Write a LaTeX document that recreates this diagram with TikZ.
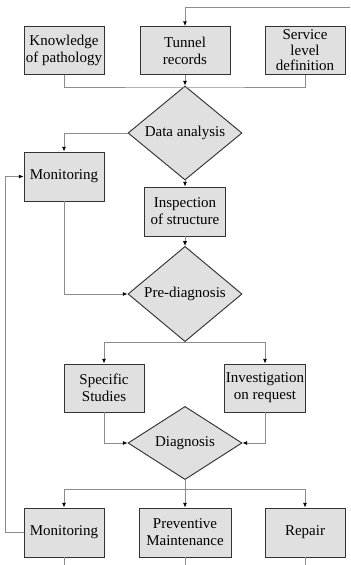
\documentclass[tikz,border=0pt]{standalone}
\usepackage{fontspec}
\setmainfont{Liberation Serif}
\usetikzlibrary{shapes.geometric,arrows.meta}
\tikzset{
  box/.style={draw=black!80, line width=0.8pt, fill=black!12, minimum width=2.4cm, minimum height=1.44cm,
    align=center, inner sep=0pt, font=\fontsize{12.8}{14.5}\selectfont},
  test/.style={diamond, draw=black!80, line width=0.8pt, fill=black!12, minimum width=3.42cm, minimum height=1.98cm,
    inner sep=0pt, font=\fontsize{12.8}{14.5}\selectfont},
  link/.style={draw=black!45, line width=0.7pt},
  arr/.style={link, -{Latex[length=4pt,width=3.5pt,color=black]}}
}
\begin{document}
\begin{tikzpicture}[x=0.03cm, y=-0.03cm]
\useasboundingbox (0,0) rectangle (350,565);
\node[box] (know) at (64,50.5) {Knowledge\\of pathology};
\node[box, minimum width=2.7cm] (tunnel) at (185,50.5) {Tunnel\\records};
\node[box, font=\fontsize{12.8}{13.2}\selectfont] (serv) at (305,50.5) {Service\\level\\definition};
\node[test] (data) at (185,133) {Data analysis};
\node[box, minimum height=1.47cm] (mon1) at (64,176.5) {Monitoring};
\node[box, minimum width=2.43cm, minimum height=1.47cm] (insp) at (185,211.5) {Inspection\\of structure};
\node[test] (pre) at (185,294) {Pre-diagnosis};
\node[box] (spec) at (104,388) {Specific\\Studies};
\node[box, minimum width=2.43cm] (inv) at (265,388) {Investigation\\on request};
\node[test, minimum height=2.04cm] (diag) at (185,443) {Diagnosis};
\node[box, minimum height=1.47cm] (mon3) at (64,532.5) {Monitoring};
\node[box, minimum width=2.76cm, minimum height=1.47cm] (prev) at (185,532.5) {Preventive\\Maintenance};
\node[box, minimum height=1.47cm] (repair) at (305,532.5) {Repair};
\coordinate (in) at (350,7);
\coordinate (j1) at (185,87);
\coordinate (j2) at (185,342);
\coordinate (j3) at (185,489);
\coordinate (fb) at (5,0);
\coordinate (bot) at (0,565);
\draw[arr] (in) -| (tunnel.north);
\draw[link] (know.south) |- (j1) -| (serv.south);
\draw[arr] (tunnel.south) -- (data.north);
\draw[arr] (data.west) -| (mon1.north);
\draw[arr] (data.south) -- (insp.north);
\draw[arr] (insp.south) -- (pre.north);
\draw[arr] (mon1.south) |- (pre.west);
\draw[link] (pre.south) -- (j2);
\draw[arr] (j2) -| (spec.north);
\draw[arr] (j2) -| (inv.north);
\draw[arr] (spec.south) |- (diag.west);
\draw[arr] (inv.south) |- (diag.east);
\draw[link] (diag.south) -- (j3);
\draw[arr] (j3) -| (mon3.north);
\draw[arr] (j3) -- (prev.north);
\draw[arr] (j3) -| (repair.north);
\draw[arr] (mon3.west) -- (mon3.west -| fb) |- (mon1.west);
\foreach \n in {mon3,prev,repair}
  \draw[link] (\n.south) -- (\n.south |- bot);
\end{tikzpicture}
\end{document}
